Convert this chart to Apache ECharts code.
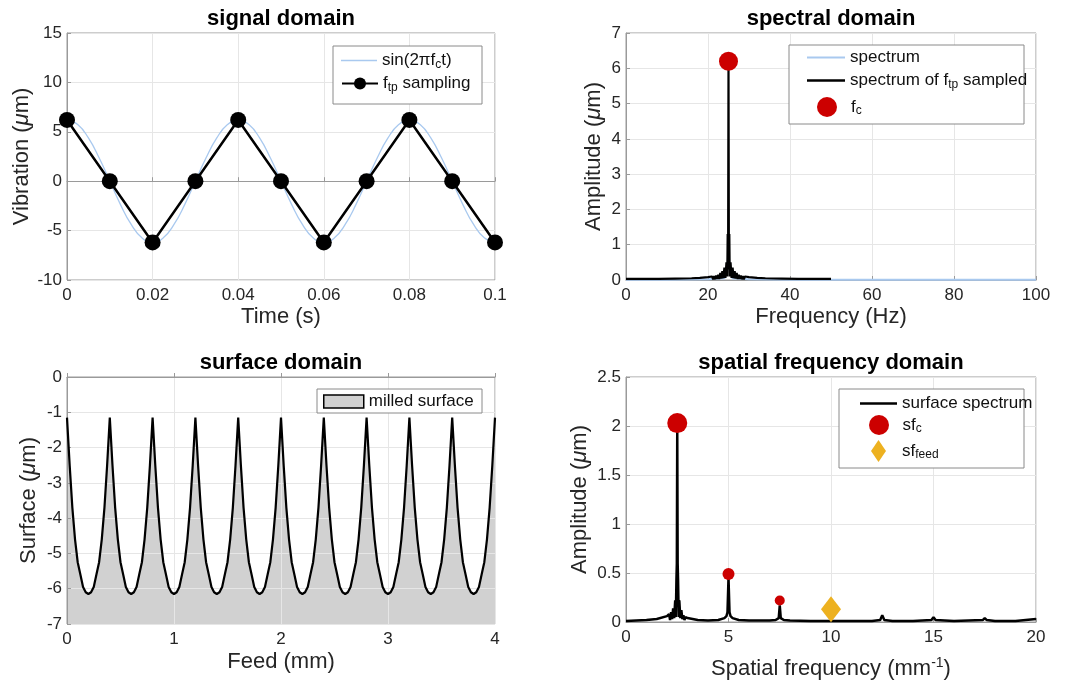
<!DOCTYPE html>
<html><head><meta charset="utf-8">
<script src="https://cdn.jsdelivr.net/npm/echarts@6/dist/echarts.min.js"></script>
<style>html,body{margin:0;padding:0;background:#fff}#c{width:1074px;height:684px}</style>
</head><body><div id="c"></div>
<script>
// ---------- data ----------
const panelTitles = ['signal domain', 'spectral domain', 'surface domain', 'spatial frequency domain'];

// signal domain
const sineTime = [0,0.0025,0.005,0.0075,0.01,0.0125,0.015,0.0175,0.02,0.0225,0.025,0.0275,0.03,0.0325,0.035,0.0375,0.04,0.0425,0.045,0.0475,0.05,0.0525,0.055,0.0575,0.06,0.0625,0.065,0.0675,0.07,0.0725,0.075,0.0775,0.08,0.0825,0.085,0.0875,0.09,0.0925,0.095,0.0975,0.1];
const sineVib = [6.2,5.73,4.38,2.37,0,-2.37,-4.38,-5.73,-6.2,-5.73,-4.38,-2.37,0,2.37,4.38,5.73,6.2,5.73,4.38,2.37,0,-2.37,-4.38,-5.73,-6.2,-5.73,-4.38,-2.37,0,2.37,4.38,5.73,6.2,5.73,4.38,2.37,0,-2.37,-4.38,-5.73,-6.2];
const sampleTime = [0,0.01,0.02,0.03,0.04,0.05,0.06,0.07,0.08,0.09,0.1];
const sampleVib = [6.2,0,-6.2,0,6.2,0,-6.2,0,6.2,0,-6.2];

// spectral domain
const specFreq = [0,10,20,24,24.6,25,25.4,26,30,40,50,60,70,80,90,100];
const specAmp = [0.01,0.01,0.02,0.05,0.2,0.8,0.2,0.05,0.02,0.01,0.01,0.01,0.01,0.01,0.01,0.01];
const sampledFreq = [0,4,8,12,16,18,20,
  21,21.25,21.5,21.75,22,22.25,22.5,22.75,23,23.25,23.5,23.75,24,24.25,24.5,
  24.7,24.8,24.9,25,25.1,25.2,25.3,
  25.5,25.75,26,26.25,26.5,26.75,27,27.25,27.5,27.75,28,28.25,28.5,28.75,29,
  30,32,34,38,42,46,50];
const sampledAmp = [0.03,0.03,0.03,0.04,0.05,0.06,0.08,
  0.1,0.02,0.11,0.02,0.13,0.03,0.15,0.03,0.2,0.04,0.25,0.05,0.35,0.06,0.5,
  0.1,1.3,0.3,6.1,0.3,1.3,0.1,
  0.5,0.06,0.35,0.05,0.25,0.04,0.2,0.03,0.15,0.03,0.13,0.02,0.11,0.02,0.1,
  0.08,0.06,0.05,0.04,0.03,0.03,0.03];
const fcFreq = [25];
const fcAmp = [6.2];

// surface domain (feed sampled every 0.025 mm from 0 to 4 mm)
const feedStep = 0.025;
const surfaceHeight = [
-1.15,-2.5,-3.7,-4.6,-5.25,-5.6,-5.95,-6.1,-6.15,-6.1,-5.95,-5.6,-5.25,-4.6,-3.7,-2.5,
-1.15,-2.5,-3.7,-4.6,-5.25,-5.6,-5.95,-6.1,-6.15,-6.1,-5.95,-5.6,-5.25,-4.6,-3.7,-2.5,
-1.15,-2.5,-3.7,-4.6,-5.25,-5.6,-5.95,-6.1,-6.15,-6.1,-5.95,-5.6,-5.25,-4.6,-3.7,-2.5,
-1.15,-2.5,-3.7,-4.6,-5.25,-5.6,-5.95,-6.1,-6.15,-6.1,-5.95,-5.6,-5.25,-4.6,-3.7,-2.5,
-1.15,-2.5,-3.7,-4.6,-5.25,-5.6,-5.95,-6.1,-6.15,-6.1,-5.95,-5.6,-5.25,-4.6,-3.7,-2.5,
-1.15,-2.5,-3.7,-4.6,-5.25,-5.6,-5.95,-6.1,-6.15,-6.1,-5.95,-5.6,-5.25,-4.6,-3.7,-2.5,
-1.15,-2.5,-3.7,-4.6,-5.25,-5.6,-5.95,-6.1,-6.15,-6.1,-5.95,-5.6,-5.25,-4.6,-3.7,-2.5,
-1.15,-2.5,-3.7,-4.6,-5.25,-5.6,-5.95,-6.1,-6.15,-6.1,-5.95,-5.6,-5.25,-4.6,-3.7,-2.5,
-1.15,-2.5,-3.7,-4.6,-5.25,-5.6,-5.95,-6.1,-6.15,-6.1,-5.95,-5.6,-5.25,-4.6,-3.7,-2.5,
-1.15,-2.5,-3.7,-4.6,-5.25,-5.6,-5.95,-6.1,-6.15,-6.1,-5.95,-5.6,-5.25,-4.6,-3.7,-2.5,
-1.15];

// spatial frequency domain
const sfFreq = [0,0.5,1,1.5,2,2.1,2.15,2.2,2.25,2.3,2.35,2.4,2.43,2.46,2.48,2.5,2.52,2.54,2.57,2.6,2.65,2.7,2.75,2.8,2.85,2.9,3,3.5,4,4.5,4.8,4.9,4.95,5,5.05,5.1,5.2,5.5,6,7,7.3,7.45,7.5,7.55,7.7,8,9,10,11,12,12.4,12.5,12.6,13,14,14.9,15,15.1,16,17.4,17.5,17.6,18,19,20];
const sfAmp = [0.01,0.015,0.02,0.03,0.06,0.08,0.02,0.1,0.03,0.14,0.04,0.22,0.05,0.43,0.6,2.0,0.6,0.43,0.05,0.22,0.04,0.12,0.03,0.07,0.02,0.05,0.04,0.02,0.015,0.02,0.04,0.06,0.1,0.45,0.1,0.06,0.04,0.02,0.015,0.015,0.02,0.04,0.17,0.04,0.02,0.015,0.01,0.01,0.01,0.01,0.02,0.07,0.02,0.01,0.01,0.02,0.05,0.02,0.01,0.02,0.04,0.02,0.01,0.01,0.03];
const sfcFreq = [2.5,5,7.5];
const sfcAmp = [2.03,0.49,0.22];
const sfFeedFreq = [10];
const sfFeedAmp = [0.13];

// ---------- chart ----------
const FF = '"Liberation Sans", Arial, Helvetica, sans-serif';
const TXT = '#262626';
const pairs = (xs, ys) => xs.map((x, i) => [x, ys[i]]);
const surfacePairs = surfaceHeight.map((v, i) => [+(i * feedStep).toFixed(4), v]);

const rich = {
  n: {fontFamily: FF, fontSize: 17, color: '#111', lineHeight: 20},
  sub: {fontFamily: FF, fontSize: 12, color: '#111', lineHeight: 7, verticalAlign: 'bottom'}
};
const legendText = {
  'sin': '{n|sin(2πf}{sub|c}{n|t)}',
  'ftp': '{n|f}{sub|tp}{n| sampling}',
  'spectrum': '{n|spectrum}',
  'spectrum ftp': '{n|spectrum of f}{sub|tp}{n| sampled}',
  'fc': '{n|f}{sub|c}',
  'milled surface': '{n|milled surface}',
  'surface spectrum': '{n|surface spectrum}',
  'sfc': '{n|sf}{sub|c}',
  'sffeed': '{n|sf}{sub|feed}'
};
const lineIcon = 'path://M0,0 H38 V2.4 H0 Z';
function leg(item, left, top, w, h, extra) {
  return Object.assign({
    data: [item], left: left, top: top, orient: 'vertical', padding: 0,
    itemWidth: w, itemHeight: h, selectedMode: false, z: 20,
    formatter: n => legendText[n] || n,
    textStyle: {rich: rich, fontFamily: FF, fontSize: 17, color: '#111'}
  }, extra || {});
}

const nameRich = {
  n: {fontFamily: FF, fontSize: 22, color: TXT, lineHeight: 26},
  i: {fontFamily: FF, fontSize: 22, color: TXT, fontStyle: 'italic', lineHeight: 26},
  sup: {fontFamily: FF, fontSize: 14, color: TXT, lineHeight: 8, verticalAlign: 'top'}
};
function xAx(gi, min, max, interval, name, gap, fmt, z) {
  return {
    type: 'value', gridIndex: gi, min, max, interval,
    name, nameLocation: 'middle', nameGap: gap,
    nameTextStyle: {rich: nameRich, fontFamily: FF, fontSize: 22, color: TXT},
    axisLine: {show: true, lineStyle: {color: '#9a9a9a', width: 1}},
    axisTick: {show: true, inside: true, length: 4, lineStyle: {color: '#9a9a9a'}},
    axisLabel: {color: TXT, fontFamily: FF, fontSize: 17, margin: 7, formatter: fmt, showMinLabel: true, showMaxLabel: true, hideOverlap: false},
    splitLine: {show: true, lineStyle: {color: '#e6e6e6', width: 1}},
    z: z || 0
  };
}
function yAx(gi, min, max, interval, name, gap, z) {
  return {
    type: 'value', gridIndex: gi, min, max, interval,
    name, nameLocation: 'middle', nameGap: gap, nameRotate: 90,
    nameTextStyle: {rich: nameRich, fontFamily: FF, fontSize: 22, color: TXT},
    axisLine: {show: true, lineStyle: {color: '#9a9a9a', width: 1}},
    axisTick: {show: true, inside: true, length: 4, lineStyle: {color: '#9a9a9a'}},
    axisLabel: {color: TXT, fontFamily: FF, fontSize: 17, margin: 5, showMinLabel: true, showMaxLabel: true, hideOverlap: false},
    splitLine: {show: true, lineStyle: {color: '#e6e6e6', width: 1}},
    z: z || 0
  };
}
const gridBase = {show: true, borderColor: '#9a9a9a', borderWidth: 1, backgroundColor: 'transparent', containLabel: false};
const boxStyle = {fill: '#fff', stroke: '#8a8a8a', lineWidth: 1};
const trimFmt = v => String(parseFloat(v.toFixed(2)));
const titleStyle = {fontFamily: FF, fontSize: 22, fontWeight: 'bold', color: '#000'};

const option = {
  animation: false,
  backgroundColor: '#fff',
  title: [
    {text: panelTitles[0], left: 281, top: 8, textAlign: 'center', padding: 0, textStyle: titleStyle},
    {text: panelTitles[1], left: 831, top: 8, textAlign: 'center', padding: 0, textStyle: titleStyle},
    {text: panelTitles[2], left: 281, top: 352, textAlign: 'center', padding: 0, textStyle: titleStyle},
    {text: panelTitles[3], left: 831, top: 352, textAlign: 'center', padding: 0, textStyle: titleStyle}
  ],
  grid: [
    Object.assign({left: 67, top: 33, width: 428, height: 247}, gridBase),
    Object.assign({left: 626, top: 33, width: 410, height: 247}, gridBase),
    Object.assign({left: 67, top: 377, width: 428, height: 247}, gridBase),
    Object.assign({left: 626, top: 377, width: 410, height: 245}, gridBase)
  ],
  xAxis: [
    xAx(0, 0, 0.1, 0.02, 'Time (s)', 26, trimFmt),
    xAx(1, 0, 100, 20, 'Frequency (Hz)', 26),
    xAx(2, 0, 4, 1, 'Feed (mm)', 27, undefined, 1),
    xAx(3, 0, 20, 5, '{n|Spatial frequency (mm}{sup|-1}{n|)}', 34)
  ],
  yAxis: [
    yAx(0, -10, 15, 5, '{n|Vibration (}{i|μ}{n|m)}', 32),
    yAx(1, 0, 7, 1, '{n|Amplitude (}{i|μ}{n|m)}', 19),
    yAx(2, -7, 0, 1, '{n|Surface (}{i|μ}{n|m)}', 25, 1),
    yAx(3, 0, 2.5, 0.5, '{n|Amplitude (}{i|μ}{n|m)}', 33)
  ],
  graphic: [
    {type: 'rect', z: 15, shape: {x: 333, y: 46, width: 149, height: 58}, style: boxStyle},
    {type: 'rect', z: 15, shape: {x: 789, y: 45, width: 235, height: 79}, style: boxStyle},
    {type: 'rect', z: 15, shape: {x: 317, y: 389, width: 165, height: 24}, style: boxStyle},
    {type: 'rect', z: 15, shape: {x: 839, y: 389, width: 185, height: 79}, style: boxStyle}
  ],
  legend: [
    leg({name: 'sin', icon: 'path://M0,0 H36 V1.6 H0 Z'}, 341, 52, 36, 15),
    leg('ftp', 341, 75, 36, 15),
    leg({name: 'spectrum', icon: 'path://M0,0 H38 V2 H0 Z'}, 807, 49, 38, 14),
    leg({name: 'spectrum ftp', icon: lineIcon}, 807, 72, 38, 14),
    leg('fc', 817, 97, 38, 20),
    leg({name: 'milled surface', icon: 'rect', itemStyle: {color: '#d1d1d1', borderColor: '#000', borderWidth: 1.5}}, 323, 393, 40, 13),
    leg({name: 'surface spectrum', icon: 'path://M0,0 H37 V2.4 H0 Z'}, 860, 395, 37, 14),
    leg('sfc', 869, 415, 37, 20),
    leg({name: 'sffeed', icon: 'path://M7.5,0 L15,11 L7.5,22 L0,11 Z'}, 871, 440, 37, 22)
  ],
  series: [
    {name: 'sin', type: 'line', xAxisIndex: 0, yAxisIndex: 0, data: pairs(sineTime, sineVib), smooth: true, symbol: 'none',
     lineStyle: {color: '#a9c9ef', width: 1.3}, itemStyle: {color: '#a9c9ef'}, z: 2},
    {name: 'ftp', type: 'line', xAxisIndex: 0, yAxisIndex: 0, data: pairs(sampleTime, sampleVib), symbol: 'circle', symbolSize: 16,
     lineStyle: {color: '#000', width: 2.5}, itemStyle: {color: '#000'}, z: 3},

    {name: 'spectrum', type: 'line', xAxisIndex: 1, yAxisIndex: 1, data: pairs(specFreq, specAmp), symbol: 'none',
     lineStyle: {color: '#a9c9ef', width: 2}, itemStyle: {color: '#a9c9ef'}, z: 2},
    {name: 'spectrum ftp', type: 'line', xAxisIndex: 1, yAxisIndex: 1, data: pairs(sampledFreq, sampledAmp), symbol: 'none',
     lineStyle: {color: '#000', width: 2.2}, itemStyle: {color: '#000'}, z: 3},
    {name: 'fc', type: 'scatter', xAxisIndex: 1, yAxisIndex: 1, data: pairs(fcFreq, fcAmp), symbol: 'circle', symbolSize: 19,
     itemStyle: {color: '#cc0000', opacity: 1}, z: 4},

    {name: 'milled surface', type: 'line', xAxisIndex: 2, yAxisIndex: 2, data: surfacePairs, symbol: 'none',
     lineStyle: {width: 0, color: '#000'}, areaStyle: {color: '#d1d1d1', opacity: 1, origin: 'start'}, itemStyle: {color: '#d1d1d1'}, z: 0},
    {name: 'surface line', type: 'line', xAxisIndex: 2, yAxisIndex: 2, data: surfacePairs, symbol: 'none',
     lineStyle: {width: 2.2, color: '#000'}, itemStyle: {color: '#000'}, z: 3},

    {name: 'surface spectrum', type: 'line', xAxisIndex: 3, yAxisIndex: 3, data: pairs(sfFreq, sfAmp), symbol: 'none',
     lineStyle: {color: '#000', width: 2.5}, itemStyle: {color: '#000'}, z: 3},
    {name: 'sfc', type: 'scatter', xAxisIndex: 3, yAxisIndex: 3, data: pairs(sfcFreq, sfcAmp), symbol: 'circle',
     symbolSize: (v, p) => [20, 12, 10][p.dataIndex], itemStyle: {color: '#cc0000', opacity: 1}, z: 4},
    {name: 'sffeed', type: 'scatter', xAxisIndex: 3, yAxisIndex: 3, data: pairs(sfFeedFreq, sfFeedAmp), symbol: 'diamond',
     symbolSize: [20, 26], itemStyle: {color: '#edb120', opacity: 1}, z: 4}
  ]
};
const chart = echarts.init(document.getElementById('c'), null, {renderer: 'canvas'});
chart.setOption(option);
</script>
</body></html>
